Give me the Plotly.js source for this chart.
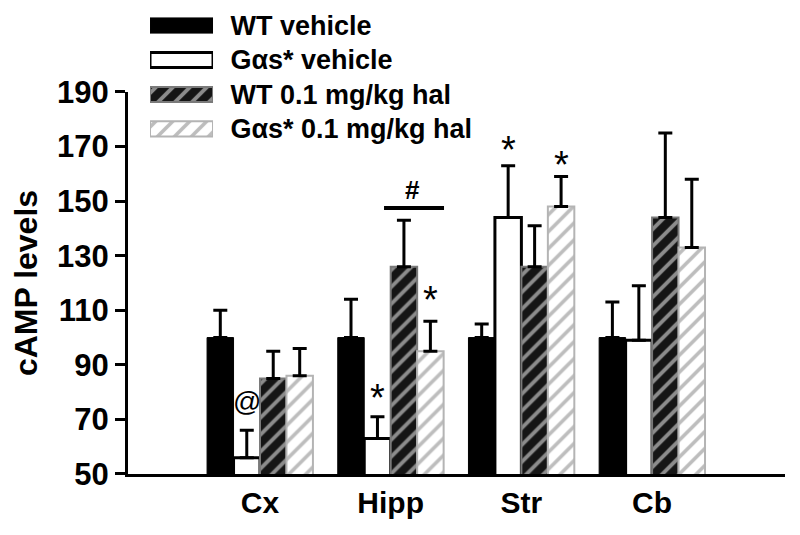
<!DOCTYPE html>
<html>
<head>
<meta charset="utf-8">
<script src="https://cdn.plot.ly/plotly-3.0.1.min.js"></script>
<style>html,body{margin:0;padding:0;background:#fff;}#chart{width:800px;height:535px;}</style>
</head>
<body>
<div id="chart"></div>
<script>
// ---- data ----
const regions = ['Cx', 'Hipp', 'Str', 'Cb'];
const seriesNames = ['WT vehicle', 'Gαs* vehicle', 'WT 0.1 mg/kg hal', 'Gαs* 0.1 mg/kg hal'];
const wtVehicle = [100, 100, 100, 100];
const wtVehicleErr = [10, 14, 5, 13];
const gasVehicle = [56, 63, 144, 99];
const gasVehicleErr = [10, 8, 19, 20];
const wtHal = [85, 126, 126, 144];
const wtHalErr = [10, 17, 15, 31];
const gasHal = [86, 95, 148, 133];
const gasHalErr = [10, 11, 11, 25];
const noErr = [0, 0, 0, 0];
const yTicks = [50, 70, 90, 110, 130, 150, 170, 190];

// ---- styles ----
const FONT = 'Liberation Sans, Arial, sans-serif';
const styles = [
  {color: '#000000', line: {color: '#000000', width: 1}},
  {color: '#ffffff', line: {color: '#000000', width: 3}},
  {color: '#151515', line: {color: '#7a7a7a', width: 2},
   pattern: {shape: '/', fgcolor: '#8c8c8c', bgcolor: '#151515', size: 12, solidity: 0.32}},
  {color: '#ffffff', line: {color: '#b4b4b4', width: 2},
   pattern: {shape: '/', fgcolor: '#bdbdbd', bgcolor: '#ffffff', size: 12, solidity: 0.3}}
];
const values = [wtVehicle, gasVehicle, wtHal, gasHal];
const errs = [wtVehicleErr, gasVehicleErr, wtHalErr, gasHalErr];

const traces = [];
values.forEach((v, i) => {
  traces.push({
    type: 'bar', x: regions, y: v, name: seriesNames[i], showlegend: false,
    marker: styles[i],
    error_y: {type: 'data', symmetric: false, array: errs[i], arrayminus: noErr,
              color: '#000', thickness: 3, width: 7},
    xaxis: 'x', yaxis: 'y'
  });
});
// legend swatches drawn as horizontal bars on an inset axis
seriesNames.forEach((n, i) => {
  traces.push({
    type: 'bar', orientation: 'h', x: [1], y: [n], showlegend: false,
    offsetgroup: 'legend', width: 0.44,
    marker: styles[i], xaxis: 'x2', yaxis: 'y2', hoverinfo: 'skip'
  });
});

const layout = {
  width: 800, height: 535,
  margin: {l: 128, r: 15, t: 5, b: 61},
  paper_bgcolor: '#fff', plot_bgcolor: '#fff',
  font: {family: FONT, color: '#000'},
  barmode: 'group', bargap: 0.19, bargroupgap: 0,
  showlegend: false,
  xaxis: {
    type: 'category', range: [-1.01, 4.017], domain: [0, 1], anchor: 'y',
    showline: true, linewidth: 3, linecolor: '#000', ticks: '',
    showgrid: false, zeroline: false,
    tickfont: {family: FONT, size: 30, weight: 'bold'}
  },
  yaxis: {
    range: [50, 190], domain: [0, 0.8145], anchor: 'x',
    tickvals: yTicks, ticks: 'outside', ticklen: 10, tickwidth: 3, tickcolor: '#000',
    showline: true, linewidth: 3, linecolor: '#000', showgrid: false, zeroline: false,
    tickfont: {family: FONT, size: 31, weight: 'bold'},
    title: {text: 'cAMP levels', font: {family: FONT, size: 32, weight: 'bold'}, standoff: 10}
  },
  xaxis2: {domain: [0.0335, 0.1294], range: [0, 1], anchor: 'y2', visible: false, fixedrange: true},
  yaxis2: {
    type: 'category', categoryarray: seriesNames, range: [3.5, -0.5],
    domain: [0.699, 0.993], anchor: 'x2', side: 'right',
    showline: false, showgrid: false, zeroline: false,
    ticks: 'outside', ticklen: 11, tickcolor: 'rgba(0,0,0,0)',
    tickfont: {family: FONT, size: 27, weight: 'bold'}
  },
  shapes: [
    {type: 'line', xref: 'x', yref: 'y', x0: 0.949, x1: 1.408, y0: 147.5, y1: 147.5,
     line: {color: '#000', width: 4}}
  ],
  annotations: [
    {x: -0.101, y: 76.4, text: '@', font: {size: 28}},
    {x: 0.899, y: 79.7, text: '*', font: {size: 38}, yshift: -5},
    {x: 1.304, y: 115.6, text: '*', font: {size: 38}, yshift: -5},
    {x: 1.899, y: 170.6, text: '*', font: {size: 38}, yshift: -5},
    {x: 2.304, y: 165.1, text: '*', font: {size: 38}, yshift: -5},
    {x: 1.17, y: 154.1, text: '#', font: {size: 26, weight: 'bold'}}
  ].map(a => Object.assign({xref: 'x', yref: 'y', showarrow: false}, a,
        {font: Object.assign({family: FONT, color: '#000'}, a.font)}))
};

Plotly.newPlot('chart', traces, layout, {staticPlot: true});
</script>
</body>
</html>
